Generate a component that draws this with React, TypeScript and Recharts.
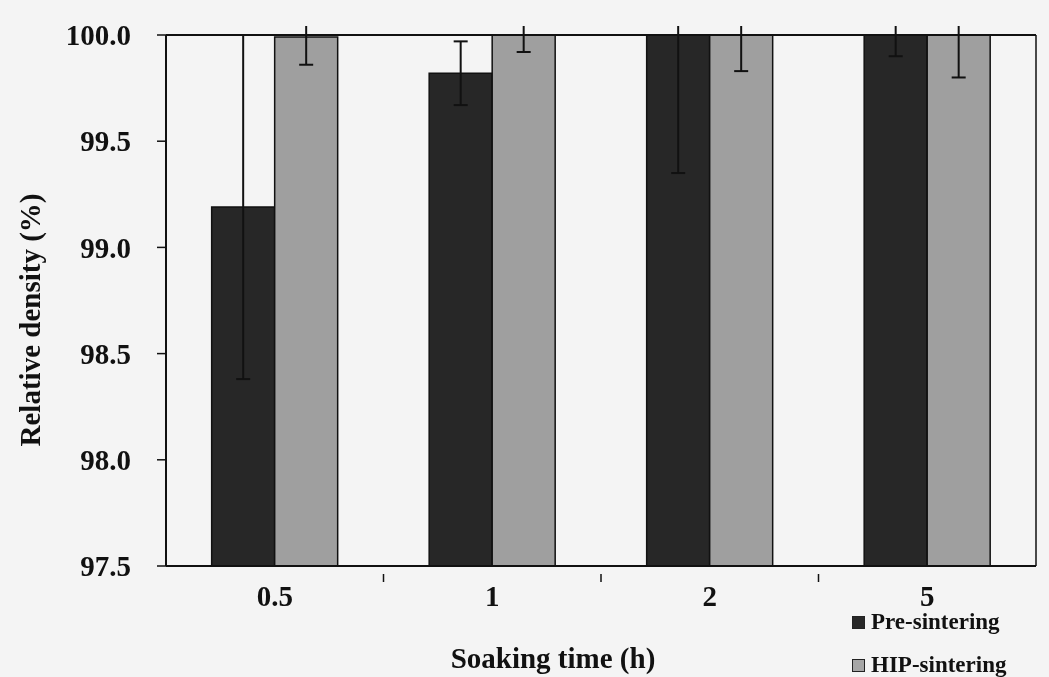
import React from "react";
import { BarChart, Bar, XAxis, YAxis, ErrorBar } from "recharts";

const categories = ["0.5", "1", "2", "5"];
const preSintering = [99.19, 99.82, 100.05, 100.05];
const preError = [0.81, 0.15, 0.7, 0.15];
const hipSintering = [99.99, 100.05, 100.05, 100.05];
const hipError = [0.13, 0.13, 0.22, 0.25];
const yTicks = [97.5, 98.0, 98.5, 99.0, 99.5, 100.0];

const data = categories.map((name, i) => ({
  name,
  pre: preSintering[i],
  preErr: preError[i],
  hip: hipSintering[i],
  hipErr: hipError[i],
}));

const FONT = '"Liberation Serif", "Times New Roman", serif';
const DARK = "#282828";
const LIGHT = "#a6a6a6";
const BG = "#f4f4f4";

// category label plus a tick mark on the boundary to the right (Excel style)
const XTick = (props: any) => {
  const { x, y, payload, index } = props;
  const half = payload.offset || 0;
  return (
    <g>
      {index < categories.length - 1 && (
        <line x1={x + half} x2={x + half} y1={y} y2={y + 8} stroke="#111" strokeWidth={1.5} />
      )}
      <text x={x} y={y + 32} textAnchor="middle" fontFamily={FONT} fontWeight="bold" fontSize={29} fill="#111">
        {payload.value}
      </text>
    </g>
  );
};

const legendItems = [
  { label: "Pre-sintering", color: DARK },
  { label: "HIP-sintering", color: LIGHT },
];

export default function App() {
  return (
    <div style={{ position: "fixed", left: 0, top: 0, width: 1049, height: 677, background: BG }}>
      {/* multiply so the plot area takes the page's paper tone */}
      <div style={{ mixBlendMode: "multiply", width: 1049, height: 677 }}>
        <BarChart
          width={1049}
          height={677}
          data={data}
          margin={{ top: 34, right: 12, left: 0, bottom: 0 }}
          barCategoryGap="21%"
          barGap={0}
        >
          <XAxis xAxisId="top" orientation="top" dataKey="name" height={1} tick={false} tickLine={false} axisLine={{ stroke: "#111", strokeWidth: 2 }} />
          <XAxis
            dataKey="name"
            height={111}
            tickLine={false}
            axisLine={{ stroke: "#111", strokeWidth: 2 }}
            tick={<XTick />}
            label={{
              content: () => (
                <text x={553} y={668} textAnchor="middle" fontFamily={FONT} fontWeight="bold" fontSize={29} fill="#111">
                  Soaking time (h)
                </text>
              ),
            }}
          />
          <YAxis
            width={166}
            domain={[97.5, 100]}
            allowDataOverflow
            ticks={yTicks}
            interval={0}
            tickFormatter={(v: number) => v.toFixed(1)}
            tickSize={9}
            tickMargin={26}
            tickLine={{ stroke: "#111", strokeWidth: 1.5 }}
            axisLine={{ stroke: "#111", strokeWidth: 2 }}
            tick={{ fontFamily: FONT, fontWeight: "bold", fontSize: 29, fill: "#111" }}
            label={{
              content: () => (
                <text
                  x={30}
                  y={320}
                  transform="rotate(-90, 30, 320)"
                  textAnchor="middle"
                  dominantBaseline="central"
                  fontFamily={FONT}
                  fontWeight="bold"
                  fontSize={29}
                  fill="#111"
                >
                  Relative density (%)
                </text>
              ),
            }}
          />
          <YAxis yAxisId="right" orientation="right" width={1} domain={[97.5, 100]} tick={false} tickLine={false} axisLine={{ stroke: "#111", strokeWidth: 1.5 }} />
          <Bar dataKey="pre" name="Pre-sintering" fill={DARK} stroke="#111" strokeWidth={1.5} isAnimationActive={false}>
            <ErrorBar dataKey="preErr" width={7} stroke="#111" strokeWidth={2} direction="y" />
          </Bar>
          <Bar dataKey="hip" name="HIP-sintering" fill={LIGHT} stroke="#111" strokeWidth={1.5} isAnimationActive={false}>
            <ErrorBar dataKey="hipErr" width={7} stroke="#111" strokeWidth={2} direction="y" />
          </Bar>
        </BarChart>
      </div>

      {/* error bars run a little past the frame in the original, then get cut */}
      <div style={{ position: "absolute", left: 150, top: 0, width: 899, height: 26, background: BG }} />

      <div
        style={{
          position: "absolute",
          left: 852,
          top: 612,
          fontFamily: FONT,
          fontWeight: "bold",
          fontSize: 23,
          color: "#111",
          lineHeight: "20px",
        }}
      >
        {legendItems.map((item, i) => (
          <div key={item.label} style={{ display: "flex", alignItems: "center", marginBottom: i === 0 ? 23 : 0 }}>
            <span
              style={{
                display: "inline-block",
                width: 11,
                height: 11,
                background: item.color,
                border: "1px solid #222",
                marginRight: 6,
              }}
            />
            {item.label}
          </div>
        ))}
      </div>
    </div>
  );
}
